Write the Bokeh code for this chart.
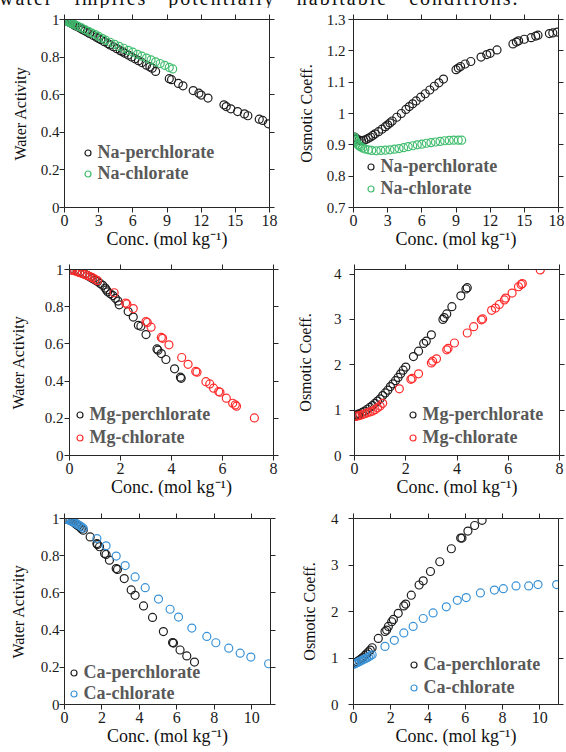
from bokeh.plotting import figure
from bokeh.models import (Range1d, LinearAxis, FixedTicker, CustomJSTickFormatter,
                          Legend, LegendItem, Div)
from bokeh.layouts import column, row
from bokeh.embed import file_html
from bokeh.resources import INLINE

# ---------------- data ----------------
caption = "water implies potentially habitable conditions."
x_label = "Conc. (mol kg\u207b\u00b9)"

ticks_x_na = [0, 3, 6, 9, 12, 15, 18]
ticks_x_mg = [0, 2, 4, 6, 8]
ticks_x_ca = [0, 2, 4, 6, 8, 10]
ticks_aw = [0, 0.2, 0.4, 0.6, 0.8, 1]
ticks_phi_na = [0.7, 0.8, 0.9, 1.0, 1.1, 1.2, 1.3]
ticks_phi = [0, 1, 2, 3, 4]

# Panel 1 : Na water activity
na_clo4_aw_m = [0.1, 0.2, 0.3, 0.4, 0.5, 0.6, 0.7, 0.8, 0.9, 1.0, 1.2, 1.4, 1.6, 1.8, 2.0, 2.2,
                2.5, 2.8, 3.0, 3.2, 3.5, 3.8, 4.0, 4.3, 4.6, 4.9, 5.1, 5.3, 5.6, 5.9, 6.2, 6.5,
                6.8, 7.2, 7.5, 7.7, 8.0, 9.2, 9.4, 10.0, 10.4, 11.3, 11.8, 12.0, 12.6, 14.0,
                14.2, 14.6, 15.2, 15.8, 16.1, 17.1, 17.4, 17.9]
na_clo4_aw = [0.997, 0.993, 0.99, 0.987, 0.983, 0.98, 0.977, 0.973, 0.97, 0.966, 0.96, 0.953,
              0.946, 0.94, 0.933, 0.926, 0.916, 0.906, 0.899, 0.892, 0.882, 0.872, 0.865, 0.855,
              0.845, 0.834, 0.828, 0.821, 0.811, 0.801, 0.791, 0.781, 0.771, 0.757, 0.748, 0.741,
              0.724, 0.685, 0.68, 0.66, 0.647, 0.622, 0.608, 0.598, 0.582, 0.546, 0.537, 0.525,
              0.51, 0.498, 0.488, 0.47, 0.463, 0.445]
na_clo3_aw_m = [0.1, 0.2, 0.3, 0.4, 0.5, 0.6, 0.8, 1.0, 1.2, 1.5, 1.8, 2.1, 2.4, 2.7, 3.0, 3.3,
                3.6, 4.0, 4.4, 4.8, 5.2, 5.6, 6.0, 6.4, 6.8, 7.2, 7.6, 8.0, 8.4, 8.8, 9.2, 9.5]
na_clo3_aw = [0.996, 0.993, 0.99, 0.987, 0.984, 0.98, 0.975, 0.969, 0.963, 0.955, 0.946, 0.937,
              0.928, 0.92, 0.91, 0.9, 0.89, 0.879, 0.868, 0.857, 0.847, 0.836, 0.826, 0.815,
              0.805, 0.795, 0.785, 0.775, 0.766, 0.756, 0.745, 0.737]

# Panel 2 : Na osmotic coefficient
na_clo4_phi_m = [0.1, 0.2, 0.3, 0.5, 0.7, 0.9, 1.1, 1.3, 1.5, 1.7, 1.9, 2.2, 2.5, 2.8, 3.0, 3.2,
                 3.4, 3.8, 4.2, 4.6, 4.9, 5.2, 5.5, 5.9, 6.3, 6.7, 7.1, 7.5, 7.9, 9.0, 9.2, 9.4,
                 9.8, 10.3, 11.2, 11.7, 12.0, 12.6, 14.0, 14.3, 14.5, 15.0, 15.6, 16.0, 16.2,
                 17.2, 17.5, 17.9]
na_clo4_phi = [0.925, 0.92, 0.918, 0.915, 0.913, 0.914, 0.917, 0.921, 0.925, 0.93, 0.935, 0.942,
               0.95, 0.958, 0.964, 0.97, 0.976, 0.988, 1.0, 1.013, 1.022, 1.031, 1.04, 1.052,
               1.063, 1.075, 1.087, 1.098, 1.11, 1.14, 1.145, 1.15, 1.158, 1.166, 1.18, 1.188,
               1.192, 1.203, 1.222, 1.228, 1.232, 1.237, 1.242, 1.247, 1.25, 1.255, 1.257, 1.26]
na_clo3_phi_m = [0.05, 0.1, 0.15, 0.2, 0.3, 0.4, 0.5, 0.6, 0.8, 1.0, 1.3, 1.6, 2.0, 2.4, 2.8,
                 3.2, 3.6, 4.0, 4.4, 4.8, 5.2, 5.6, 6.0, 6.4, 6.8, 7.2, 7.6, 8.0, 8.4, 8.8, 9.2, 9.5]
na_clo3_phi = [0.925, 0.92, 0.915, 0.91, 0.905, 0.9, 0.897, 0.894, 0.89, 0.887, 0.884, 0.882,
               0.881, 0.882, 0.883, 0.884, 0.886, 0.888, 0.891, 0.894, 0.897, 0.9, 0.902, 0.905,
               0.907, 0.909, 0.911, 0.913, 0.914, 0.915, 0.915, 0.915]

# Panel 3 : Mg water activity
mg_clo4_aw_m = [0.05, 0.1, 0.2, 0.3, 0.4, 0.5, 0.6, 0.7, 0.8, 0.9, 1.0, 1.1, 1.2, 1.3, 1.4, 1.45,
                1.5, 1.6, 1.7, 1.8, 1.9, 1.95, 2.3, 2.5, 2.7, 2.8, 3.0, 3.43, 3.47, 3.6, 3.78,
                4.12, 4.35, 4.38]
mg_clo4_aw = [0.999, 0.998, 0.995, 0.99, 0.985, 0.98, 0.975, 0.968, 0.96, 0.952, 0.943, 0.935,
              0.925, 0.915, 0.9, 0.89, 0.88, 0.87, 0.86, 0.845, 0.83, 0.81, 0.774, 0.744, 0.70,
              0.695, 0.65, 0.573, 0.566, 0.548, 0.516, 0.466, 0.421, 0.415]
mg_clo3_aw_m = [0.05, 0.1, 0.2, 0.3, 0.4, 0.5, 0.6, 0.7, 0.8, 0.9, 1.0, 1.1, 1.75, 2.2, 2.25, 2.5,
                3.0, 3.05, 3.2, 3.6, 3.65, 3.9, 4.4, 4.65, 4.95, 5.0, 5.35, 5.5, 5.65, 5.85, 5.9,
                6.15, 6.4, 6.5, 6.55, 7.25]
mg_clo3_aw = [0.999, 0.997, 0.993, 0.988, 0.983, 0.978, 0.973, 0.968, 0.962, 0.956, 0.948, 0.94,
              0.875, 0.82, 0.815, 0.79, 0.72, 0.715, 0.69, 0.635, 0.63, 0.595, 0.527, 0.49,
              0.452, 0.448, 0.397, 0.385, 0.362, 0.344, 0.34, 0.308, 0.281, 0.272, 0.265, 0.202]

# Panel 4 : Mg osmotic coefficient
mg_clo4_phi_m = [0.05, 0.1, 0.15, 0.2, 0.3, 0.4, 0.5, 0.6, 0.7, 0.8, 0.9, 1.0, 1.1, 1.2, 1.3, 1.4,
                 1.5, 1.6, 1.7, 1.8, 1.9, 2.0, 2.3, 2.5, 2.7, 2.8, 3.0, 3.45, 3.5, 3.6, 3.8, 4.15,
                 4.35, 4.4]
mg_clo4_phi = [0.88, 0.9, 0.91, 0.92, 0.95, 0.98, 1.02, 1.06, 1.1, 1.15, 1.2, 1.25, 1.32, 1.38,
               1.44, 1.52, 1.58, 1.65, 1.72, 1.8, 1.88, 1.95, 2.18, 2.3, 2.47, 2.52, 2.66, 3.0,
               3.04, 3.12, 3.28, 3.52, 3.67, 3.7]
mg_clo3_phi_m = [0.05, 0.1, 0.2, 0.3, 0.4, 0.5, 0.6, 0.7, 0.8, 0.9, 1.0, 1.1, 1.75, 2.2, 2.25, 2.5,
                 3.0, 3.05, 3.2, 3.6, 3.65, 3.9, 4.4, 4.65, 4.95, 5.0, 5.35, 5.5, 5.65, 5.85, 5.9,
                 6.15, 6.4, 6.5, 6.55, 7.25]
mg_clo3_phi = [0.86, 0.87, 0.88, 0.9, 0.92, 0.94, 0.96, 0.98, 1.01, 1.05, 1.09, 1.15, 1.47, 1.68,
               1.7, 1.8, 2.04, 2.08, 2.13, 2.33, 2.36, 2.48, 2.7, 2.84, 2.99, 3.01, 3.2, 3.25,
               3.33, 3.43, 3.47, 3.58, 3.72, 3.77, 3.79, 4.09]

# Panel 5 : Ca water activity
ca_clo4_aw_m = [0.05, 0.1, 0.2, 0.3, 0.4, 0.5, 0.6, 0.7, 0.8, 0.9, 1.0, 1.37, 1.73, 1.76, 1.87,
                2.14, 2.22, 2.4, 2.76, 2.83, 3.19, 3.56, 3.77, 4.22, 4.7, 5.28, 5.77, 5.82, 6.17,
                6.53, 6.94]
ca_clo4_aw = [0.999, 0.998, 0.995, 0.99, 0.985, 0.978, 0.97, 0.962, 0.955, 0.945, 0.937, 0.901,
              0.865, 0.86, 0.848, 0.812, 0.807, 0.776, 0.731, 0.726, 0.677, 0.616, 0.587, 0.53,
              0.468, 0.392, 0.333, 0.33, 0.293, 0.261, 0.228]
ca_clo3_aw_m = [0.05, 0.1, 0.2, 0.3, 0.4, 0.5, 0.6, 0.7, 0.8, 0.9, 1.0, 1.73, 2.22, 2.76, 3.24,
                3.77, 4.31, 5.02, 5.64, 6.09, 6.8, 7.6, 8.08, 8.77, 9.38, 9.95, 10.9]
ca_clo3_aw = [0.999, 0.997, 0.993, 0.989, 0.984, 0.98, 0.975, 0.968, 0.962, 0.955, 0.947, 0.892,
              0.853, 0.798, 0.747, 0.686, 0.628, 0.567, 0.512, 0.47, 0.411, 0.366, 0.332, 0.303,
              0.276, 0.255, 0.219]

# Panel 6 : Ca osmotic coefficient
ca_clo4_phi_m = [0.05, 0.1, 0.2, 0.3, 0.4, 0.5, 0.6, 0.7, 0.8, 0.9, 1.0, 1.33, 1.69, 1.78, 1.87,
                 2.05, 2.14, 2.4, 2.7, 2.8, 3.1, 3.52, 3.74, 4.13, 4.63, 5.25, 5.75, 5.82, 6.14,
                 6.5, 6.9]
ca_clo4_phi = [0.88, 0.9, 0.92, 0.95, 0.98, 1.01, 1.05, 1.09, 1.13, 1.17, 1.22, 1.42, 1.57, 1.6,
               1.68, 1.78, 1.83, 1.96, 2.12, 2.16, 2.35, 2.57, 2.66, 2.86, 3.07, 3.35, 3.58, 3.58,
               3.73, 3.85, 3.96]
ca_clo3_phi_m = [0.05, 0.1, 0.2, 0.3, 0.4, 0.5, 0.6, 0.7, 0.8, 0.9, 1.0, 1.69, 2.19, 2.7, 3.2,
                 3.74, 4.27, 4.98, 5.57, 6.05, 6.81, 7.56, 8.04, 8.72, 9.4, 9.9, 10.9]
ca_clo3_phi = [0.87, 0.88, 0.9, 0.92, 0.94, 0.96, 0.98, 1.0, 1.02, 1.05, 1.07, 1.25, 1.38, 1.54,
               1.68, 1.85, 1.97, 2.1, 2.24, 2.3, 2.4, 2.46, 2.49, 2.55, 2.55, 2.58, 2.58]

# ---------------- styling ----------------
FONT = "Liberation Serif"
AXIS_COLOR = "#262626"
BLACK = "#1e1e1e"
GREEN = "#40bd6e"
RED = "#ff2b2b"
BLUE = "#3a92d6"


def style_axis(ax, show_labels):
    ax.axis_line_color = AXIS_COLOR
    ax.axis_line_width = 1
    ax.major_tick_line_color = AXIS_COLOR
    ax.major_tick_in = 0
    ax.major_tick_out = 5
    ax.minor_tick_line_color = None
    ax.major_label_text_font = FONT
    ax.major_label_text_color = "#1a1a1a"
    ax.axis_label_text_font = FONT
    ax.axis_label_text_font_style = "normal"
    ax.axis_label_text_color = "#111111"
    if not show_labels:
        ax.major_label_text_font_size = "0px"
        ax.major_label_standoff = 0


def panel(width, height, bl, br, bt, bb, xr, yr, xticks, yticks, ylabel,
          series, leg_xy, leg_spacing, y_label_standoff, y_tick_standoff):
    p = figure(width=width, height=height, x_range=Range1d(*xr), y_range=Range1d(*yr),
               output_backend="svg", toolbar_location=None, x_axis_type=None,
               y_axis_type=None, min_border_left=bl, min_border_right=br,
               min_border_top=bt, min_border_bottom=bb)
    p.outline_line_color = None
    p.background_fill_color = "white"
    p.border_fill_color = "white"

    fmt = CustomJSTickFormatter(code="return String(Math.round(tick * 100) / 100);")
    blank = CustomJSTickFormatter(code="return '';")

    xb = LinearAxis(ticker=FixedTicker(ticks=xticks, minor_ticks=[]), formatter=fmt,
                    axis_label=x_label)
    style_axis(xb, True)
    xb.major_label_text_font_size = "16px"
    xb.major_label_standoff = 2
    xb.axis_label_text_font_size = "18px"
    xb.axis_label_standoff = 0
    p.add_layout(xb, "below")

    xt = LinearAxis(ticker=FixedTicker(ticks=xticks, minor_ticks=[]), formatter=blank)
    style_axis(xt, False)
    p.add_layout(xt, "above")

    yl = LinearAxis(ticker=FixedTicker(ticks=yticks, minor_ticks=[]), formatter=fmt,
                    axis_label=ylabel)
    style_axis(yl, True)
    yl.major_label_text_font_size = "15px"
    yl.major_label_standoff = y_tick_standoff
    yl.axis_label_text_font_size = "16px"
    yl.axis_label_standoff = y_label_standoff
    p.add_layout(yl, "left")

    yr_ax = LinearAxis(ticker=FixedTicker(ticks=yticks, minor_ticks=[]), formatter=blank)
    style_axis(yr_ax, False)
    p.add_layout(yr_ax, "right")

    items = []
    for label, xs, ys, color in series:
        r = p.scatter(x=xs, y=ys, marker="circle", size=8, fill_color=None,
                      line_color=color, line_width=1.2)
        items.append(LegendItem(label=label, renderers=[r]))

    leg = Legend(items=items, location=leg_xy, padding=0, margin=0, spacing=leg_spacing,
                 glyph_width=15, glyph_height=21, label_height=21, label_standoff=3,
                 border_line_color=None, background_fill_alpha=0,
                 label_text_font=FONT, label_text_font_size="18px",
                 label_text_font_style="bold", label_text_color="#595959")
    p.add_layout(leg)
    return p


p1 = panel(283, 250, 64, 14, 11, 51, (0, 18), (0, 1), ticks_x_na, ticks_aw, "Water Activity",
           [("Na-perchlorate", na_clo4_aw_m, na_clo4_aw, BLACK),
            ("Na-chlorate", na_clo3_aw_m, na_clo3_aw, GREEN)],
           (15.5, 23.5), 0, 9, 0)
p2 = panel(281, 250, 70, 6, 11, 51, (0, 18), (0.7, 1.3), ticks_x_na, ticks_phi_na,
           "Osmotic Coeff.",
           [("Na-perchlorate", na_clo4_phi_m, na_clo4_phi, BLACK),
            ("Na-chlorate", na_clo3_phi_m, na_clo3_phi, GREEN)],
           (9.5, 8.5), 1, 9, 3)
p3 = panel(283, 250, 69, 10, 11, 53, (0, 8), (0, 1), ticks_x_mg, ticks_aw, "Water Activity",
           [("Mg-perchlorate", mg_clo4_aw_m, mg_clo4_aw, BLACK),
            ("Mg-chlorate", mg_clo3_aw_m, mg_clo3_aw, RED)],
           (2.5, 7.5), 2, 15, 1)
p4 = panel(282, 250, 71, 6, 11, 53, (0, 8), (0, 4.1), ticks_x_mg, ticks_phi, "Osmotic Coeff.",
           [("Mg-perchlorate", mg_clo4_phi_m, mg_clo4_phi, BLACK),
            ("Mg-chlorate", mg_clo3_phi_m, mg_clo3_phi, RED)],
           (50.5, 7.5), 2, 17, 8)
p5 = panel(283, 244, 64, 13, 10, 48, (0, 11), (0, 1), ticks_x_ca, ticks_aw, "Water Activity",
           [("Ca-perchlorate", ca_clo4_aw_m, ca_clo4_aw, BLACK),
            ("Ca-chlorate", ca_clo3_aw_m, ca_clo3_aw, BLUE)],
           (1.5, 0.5), 0, 11, 0)
p6 = panel(281, 244, 70, 6, 10, 48, (0, 11), (0, 4), ticks_x_ca, ticks_phi, "Osmotic Coeff.",
           [("Ca-perchlorate", ca_clo4_phi_m, ca_clo4_phi, BLACK),
            ("Ca-chlorate", ca_clo3_phi_m, ca_clo3_phi, BLUE)],
           (52.5, 6.5), 2, 10, 10)

cap = Div(text=("<div style=\"position:relative; top:-16px; left:-1px; white-space:nowrap; "
                "font-family:'Liberation Serif', serif; font-size:20px; word-spacing:14px; "
                "letter-spacing:2px; color:#111;\">" + caption + "</div>"),
          width=566, height=8, margin=0, styles={"overflow": "hidden"})

layout = column(cap, row(p1, p2), row(p3, p4), row(p5, p6))

with open("out.html", "w") as f:
    f.write(file_html(layout, INLINE))
